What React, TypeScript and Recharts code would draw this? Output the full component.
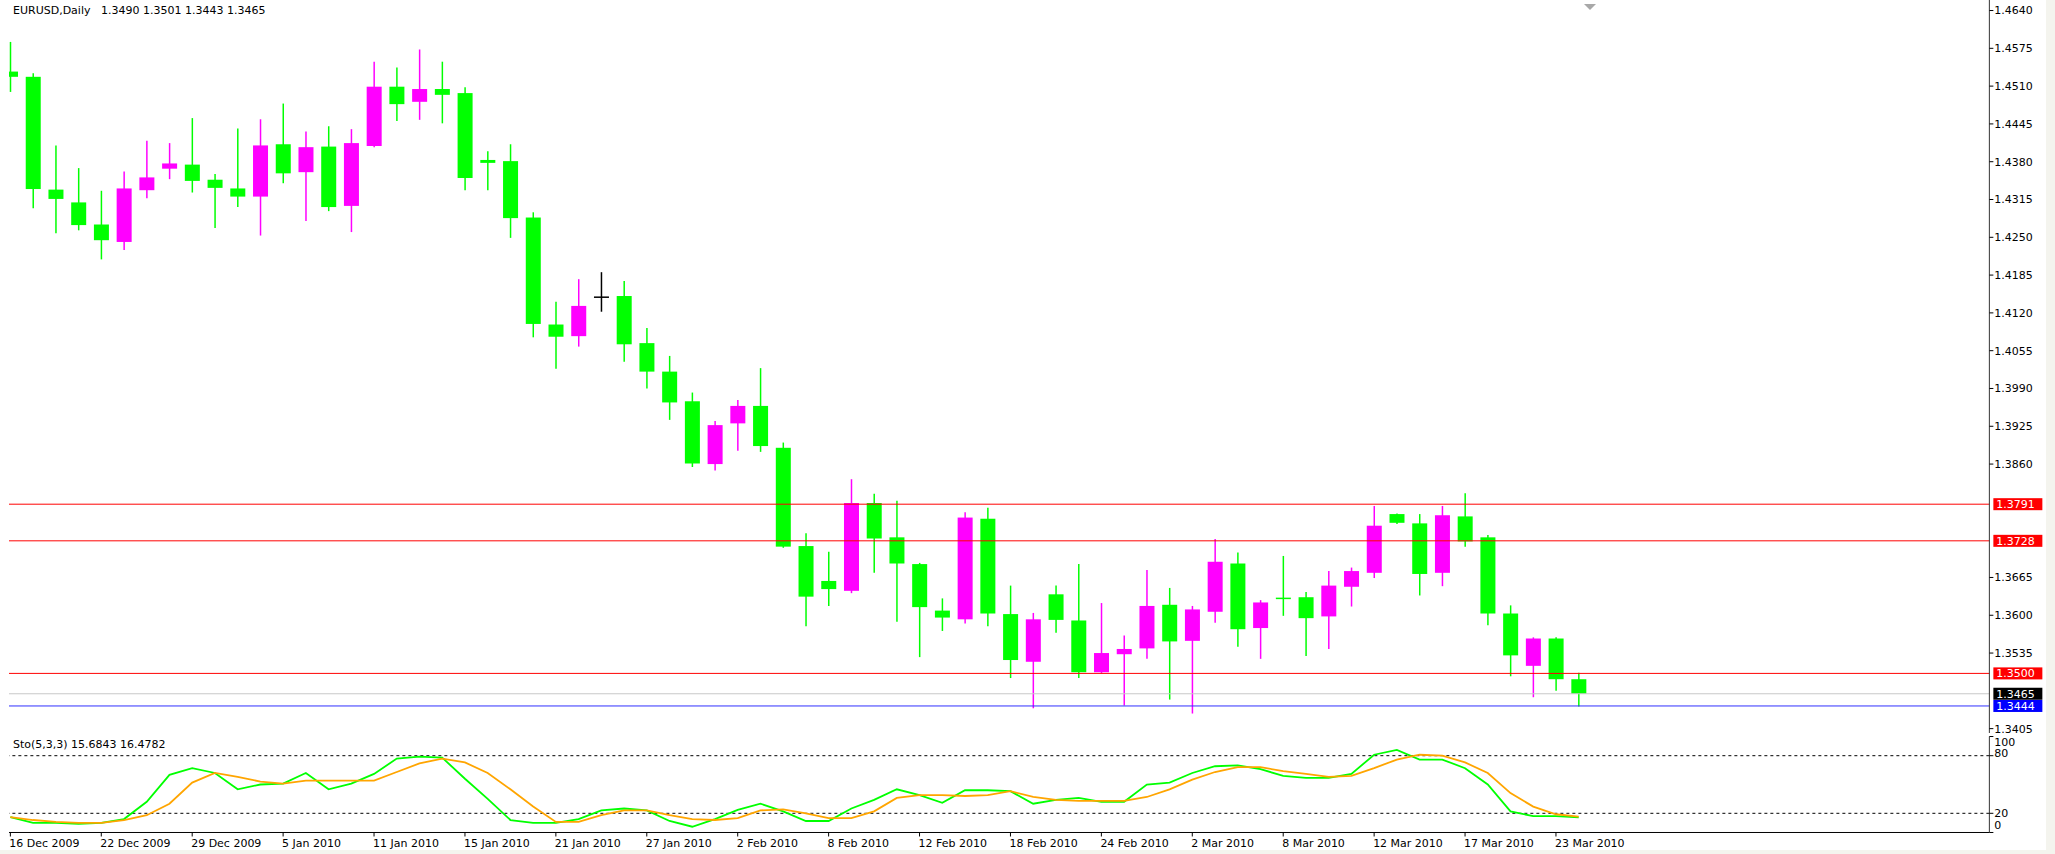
import { Bar, ComposedChart, Line, ReferenceLine, XAxis, YAxis } from 'recharts'

const FONT = "'DejaVu Sans', Verdana, sans-serif"

const dates = [
  '16 Dec 2009', '17 Dec 2009', '18 Dec 2009', '21 Dec 2009', '22 Dec 2009', '23 Dec 2009', '24 Dec 2009', '28 Dec 2009',
  '29 Dec 2009', '30 Dec 2009', '31 Dec 2009', '4 Jan 2010', '5 Jan 2010', '6 Jan 2010', '7 Jan 2010', '8 Jan 2010',
  '11 Jan 2010', '12 Jan 2010', '13 Jan 2010', '14 Jan 2010', '15 Jan 2010', '18 Jan 2010', '19 Jan 2010', '20 Jan 2010',
  '21 Jan 2010', '22 Jan 2010', '25 Jan 2010', '26 Jan 2010', '27 Jan 2010', '28 Jan 2010', '29 Jan 2010', '1 Feb 2010',
  '2 Feb 2010', '3 Feb 2010', '4 Feb 2010', '5 Feb 2010', '8 Feb 2010', '9 Feb 2010', '10 Feb 2010', '11 Feb 2010',
  '12 Feb 2010', '15 Feb 2010', '16 Feb 2010', '17 Feb 2010', '18 Feb 2010', '19 Feb 2010', '22 Feb 2010', '23 Feb 2010',
  '24 Feb 2010', '25 Feb 2010', '26 Feb 2010', '1 Mar 2010', '2 Mar 2010', '3 Mar 2010', '4 Mar 2010', '5 Mar 2010',
  '8 Mar 2010', '9 Mar 2010', '10 Mar 2010', '11 Mar 2010', '12 Mar 2010', '14 Mar 2010', '15 Mar 2010', '16 Mar 2010',
  '17 Mar 2010', '18 Mar 2010', '19 Mar 2010', '22 Mar 2010', '23 Mar 2010', '24 Mar 2010',
]

const opens = [
  1.4535, 1.4526, 1.4332, 1.431, 1.4272, 1.4242, 1.4331, 1.4368, 1.4375, 1.4349,
  1.4334, 1.432, 1.441, 1.4362, 1.4406, 1.4304, 1.4407, 1.4509, 1.4483, 1.4505,
  1.4498, 1.4383, 1.4381, 1.4284, 1.41, 1.408, 1.4147, 1.4149, 1.4068, 1.4019,
  1.3968, 1.386, 1.393, 1.396, 1.3888, 1.3719, 1.3659, 1.3642, 1.3793, 1.3734,
  1.3688, 1.3608, 1.3593, 1.3766, 1.3602, 1.352, 1.3636, 1.3591, 1.3502, 1.3533,
  1.3543, 1.3618, 1.3556, 1.3606, 1.3689, 1.3578, 1.3629, 1.3631, 1.3598, 1.3649,
  1.3673, 1.3774, 1.3758, 1.3673, 1.377, 1.3734, 1.3603, 1.3513, 1.356, 1.349,
]
const highs = [
  1.4586, 1.4532, 1.4408, 1.4369, 1.433, 1.4363, 1.4416, 1.4412, 1.4455, 1.4359,
  1.4437, 1.4453, 1.448, 1.4432, 1.4441, 1.4436, 1.4552, 1.4542, 1.4573, 1.4552,
  1.4508, 1.4398, 1.441, 1.4293, 1.4139, 1.4178, 1.419, 1.4175, 1.4094, 1.4046,
  1.3983, 1.3934, 1.397, 1.4025, 1.3897, 1.3741, 1.3709, 1.3834, 1.3809, 1.3797,
  1.369, 1.3629, 1.3777, 1.3785, 1.3651, 1.3604, 1.3651, 1.3688, 1.3621, 1.3565,
  1.3678, 1.3647, 1.3616, 1.3731, 1.3708, 1.3626, 1.3702, 1.364, 1.3676, 1.3682,
  1.3788, 1.3775, 1.3774, 1.3788, 1.381, 1.3738, 1.3617, 1.3562, 1.3562, 1.3501,
]
const lows = [
  1.45, 1.43, 1.4257, 1.4262, 1.4212, 1.4228, 1.4317, 1.435, 1.4327, 1.4266,
  1.4302, 1.4253, 1.4343, 1.4278, 1.4295, 1.4259, 1.4405, 1.445, 1.4452, 1.4446,
  1.4331, 1.4331, 1.4249, 1.4078, 1.4024, 1.4062, 1.4122, 1.4036, 1.399, 1.3936,
  1.3855, 1.3849, 1.3883, 1.3881, 1.3716, 1.3581, 1.3616, 1.3638, 1.3673, 1.3589,
  1.3528, 1.3573, 1.3586, 1.3581, 1.3492, 1.344, 1.357, 1.3492, 1.35, 1.3445,
  1.3525, 1.3455, 1.3431, 1.3587, 1.3546, 1.3525, 1.3599, 1.353, 1.3542, 1.3615,
  1.3664, 1.3757, 1.3634, 1.365, 1.3718, 1.3583, 1.3495, 1.3459, 1.347, 1.3443,
]
const closes = [
  1.4526, 1.4333, 1.4316, 1.4271, 1.4245, 1.4334, 1.4353, 1.4377, 1.4347, 1.4335,
  1.432, 1.4408, 1.436, 1.4405, 1.4302, 1.4412, 1.4509, 1.4479, 1.4505, 1.4495,
  1.4352, 1.4378, 1.4283, 1.4101, 1.4079, 1.4132, 1.4147, 1.4066, 1.4019, 1.3966,
  1.3861, 1.3927, 1.396, 1.3891, 1.3718, 1.3632, 1.3645, 1.3793, 1.3732, 1.3689,
  1.3614, 1.3596, 1.3768, 1.3603, 1.3523, 1.3593, 1.3592, 1.3502, 1.3535, 1.3542,
  1.3616, 1.3555, 1.361, 1.3692, 1.3576, 1.3622, 1.3627, 1.3595, 1.3651, 1.3676,
  1.3754, 1.3759, 1.3671, 1.3772, 1.3727, 1.3603, 1.3531, 1.356, 1.349, 1.3465,
]

// Sto(5,3,3): main (%K) and signal (%D)
const stoMain = [
  16, 10, 10, 9, 10, 14, 32, 60, 67, 62, 45, 50, 51, 62, 45, 51, 61, 77, 79, 78,
  56, 35, 13, 10, 10, 14, 23, 25, 23, 12, 6, 14, 23.5, 30, 22, 12, 12, 25, 34, 45,
  39, 31, 44, 44, 43, 30, 34, 36, 32, 32, 50, 52, 62, 69, 70, 66, 59, 57, 57, 61,
  81, 86, 76, 76, 67, 50, 22, 17, 17, 15.6843,
]
const stoSignal = [
  16, 13, 11, 10, 10, 13, 18, 30, 52, 62, 58, 53, 51, 54, 54, 54, 54, 63, 72, 77,
  73, 62, 45, 27, 11, 11, 18, 23, 23, 18, 14, 13, 15, 23, 24, 20, 15, 15, 22, 36,
  39, 39, 38, 39, 43, 37, 34, 33, 33, 33, 37, 45, 55, 63, 68, 68, 64, 61, 58, 59,
  67, 76, 81, 80, 73, 62, 41, 27, 19, 16.4782,
]

const priceTicks = [
  1.464, 1.4575, 1.451, 1.4445, 1.438, 1.4315, 1.425, 1.4185, 1.412, 1.4055,
  1.399, 1.3925, 1.386, 1.3665, 1.36, 1.3535, 1.3405,
]
const stoTicks = [0, 20, 80, 100]

const levels = [
  { price: 1.3791, line: '#ff0000', tag: '#ff0000' },
  { price: 1.3728, line: '#ff0000', tag: '#ff0000' },
  { price: 1.35, line: '#ff0000', tag: '#ff0000' },
  { price: 1.3465, line: '#c8c8c8', tag: '#000000' },
  { price: 1.3444, line: '#3030ff', tag: '#0000ff' },
]

const rows = dates.map((date, i) => ({
  date,
  open: opens[i],
  high: highs[i],
  low: lows[i],
  close: closes[i],
  k: stoMain[i],
  d: stoSignal[i],
}))

const CHART_W = 2047.36
const AXIS_W = 57
const PAD = { left: 0, right: 399.3 }

function Candle(props: any) {
  const { x, y, width, height, payload } = props
  const { open, close, high, low } = payload
  const k = height / (high - low)
  const yo = y + (high - open) * k
  const yc = y + (high - close) * k
  const cx = x + width / 2
  const color = close < open ? '#00ff00' : close > open ? '#ff00ff' : '#000000'
  const top = Math.min(yo, yc)
  const h = Math.abs(yc - yo)
  return (
    <g>
      <line x1={cx} x2={cx} y1={y} y2={y + height} stroke={color} strokeWidth={1.5} />
      {h < 1.2 ? (
        <line x1={x} x2={x + width} y1={top} y2={top} stroke={color} strokeWidth={1.5} />
      ) : (
        <rect x={x} y={top} width={width} height={h} fill={color} />
      )}
    </g>
  )
}

function PriceTag(props: any) {
  const { viewBox, text, bg } = props
  if (!viewBox) return null
  const left = viewBox.x + viewBox.width + 4
  return (
    <g>
      <rect x={left} y={viewBox.y - 6} width={49} height={12} fill={bg} />
      <text x={left + 3} y={viewBox.y + 4} fill="#fff" fontSize={11} fontFamily={FONT}>
        {text}
      </text>
    </g>
  )
}

function DateTick(props: any) {
  const { x, y, payload } = props
  return (
    <g>
      <line x1={x} x2={x} y1={y} y2={y + 4} stroke="#000" />
      <text x={x - 1} y={y + 15} textAnchor="start" fontSize={11} fontFamily={FONT} fill="#000">
        {payload.value}
      </text>
    </g>
  )
}

const stoLabelShift: Record<number, number> = { 100: 6, 80: -3, 20: 0, 0: -7 }

function StoTick(props: any) {
  const { x, y, payload } = props
  return (
    <g>
      <line x1={x} x2={x + 4} y1={y} y2={y} stroke="#000" />
      <text x={x + 5} y={y + stoLabelShift[payload.value] + 4} fontSize={11} fontFamily={FONT} fill="#000">
        {payload.value}
      </text>
    </g>
  )
}

export default function App() {
  return (
    <div style={{ position: 'absolute', left: 0, top: 0, width: 2055, height: 854, background: '#f4f4ee' }}>
      <div style={{ position: 'absolute', left: 0, top: 0, width: 2046, height: 850, background: '#fff' }} />
      <div style={{ position: 'absolute', left: 9, top: 0, width: 2037, height: 850, overflow: 'hidden' }}>
        <div style={{ position: 'absolute', left: -10.36, top: 0 }}>
          <ComposedChart width={CHART_W} height={745} data={rows} margin={{ top: 0, right: 0, bottom: 12, left: 0 }}>
            <XAxis
              dataKey="date"
              type="category"
              scale="band"
              height={0}
              tick={false}
              tickLine={false}
              axisLine={{ stroke: '#000' }}
              padding={PAD}
            />
            <YAxis
              orientation="right"
              width={AXIS_W}
              type="number"
              domain={[1.33975, 1.46581]}
              allowDataOverflow
              ticks={priceTicks}
              interval={0}
              tickFormatter={(v: number) => v.toFixed(4)}
              tick={{ fontSize: 11, fontFamily: FONT, fill: '#000' }}
              tickSize={4}
              tickMargin={1}
              tickLine={{ stroke: '#000' }}
              axisLine={{ stroke: '#333' }}
            />
            {levels.map((l) => (
              <ReferenceLine
                key={l.price}
                y={l.price}
                stroke={l.line}
                strokeWidth={1}
                label={<PriceTag text={l.price.toFixed(4)} bg={l.tag} />}
              />
            ))}
            <Bar dataKey={(d: any) => [d.low, d.high]} barSize={15} shape={<Candle />} isAnimationActive={false} />
          </ComposedChart>
        </div>
        <div style={{ position: 'absolute', left: -10.36, top: 733 }}>
          <ComposedChart width={CHART_W} height={121} data={rows} margin={{ top: 3.5, right: 0, bottom: 0, left: 0 }}>
            <XAxis
              dataKey="date"
              type="category"
              scale="band"
              height={21.5}
              interval={3}
              tick={<DateTick />}
              tickSize={0}
              tickMargin={0}
              tickLine={false}
              axisLine={{ stroke: '#000' }}
              padding={PAD}
            />
            <YAxis
              orientation="right"
              width={AXIS_W}
              domain={[0, 100]}
              ticks={stoTicks}
              interval={0}
              tick={<StoTick />}
              tickSize={0}
              tickMargin={0}
              tickLine={false}
              axisLine={{ stroke: '#333' }}
            />
            <ReferenceLine y={80} stroke="#000" strokeDasharray="3 3" />
            <ReferenceLine y={20} stroke="#000" strokeDasharray="3 3" />
            <Line type="linear" dataKey="k" stroke="#00ff00" strokeWidth={1.8} dot={false} isAnimationActive={false} />
            <Line type="linear" dataKey="d" stroke="#ffa500" strokeWidth={1.8} dot={false} isAnimationActive={false} />
          </ComposedChart>
        </div>
      </div>
      <div style={{ position: 'absolute', left: 13, top: 4, fontFamily: FONT, fontSize: 11, color: '#000', whiteSpace: 'pre' }}>
        EURUSD,Daily   1.3490 1.3501 1.3443 1.3465
      </div>
      <div style={{ position: 'absolute', left: 13, top: 738, fontFamily: FONT, fontSize: 11, color: '#000', whiteSpace: 'pre' }}>
        Sto(5,3,3) 15.6843 16.4782
      </div>
      <div
        style={{
          position: 'absolute',
          left: 1584,
          top: 4,
          width: 0,
          height: 0,
          borderLeft: '6px solid transparent',
          borderRight: '6px solid transparent',
          borderTop: '6px solid #a8a8a8',
        }}
      />
    </div>
  )
}
